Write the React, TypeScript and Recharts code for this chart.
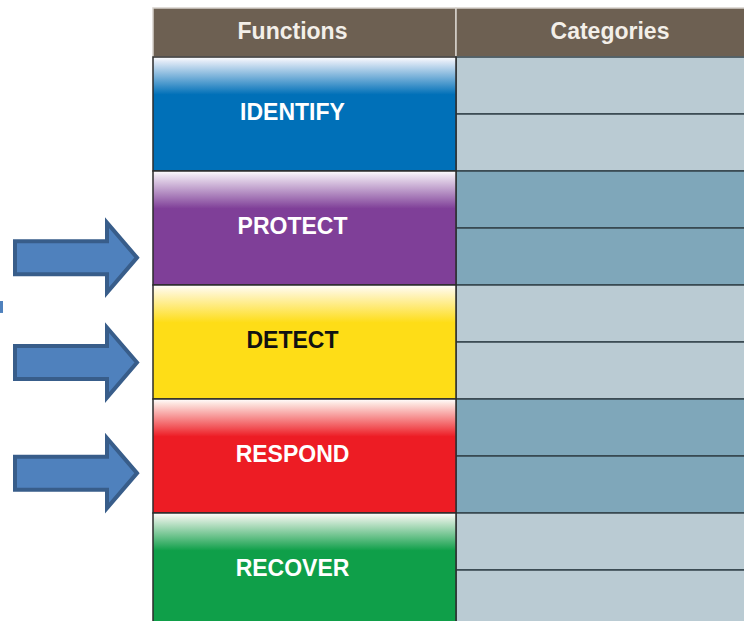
import React from 'react';
import { ComposedChart, XAxis, YAxis, ReferenceArea, Scatter } from 'recharts';

// table content
const headers = ['Functions', 'Categories'];
const functions = ['IDENTIFY', 'PROTECT', 'DETECT', 'RESPOND', 'RECOVER'];
const categoriesPerFunction = [2, 2, 2, 2, 2];

// arrows: which function they point at, and how far down that row (0..1)
const arrowTargets = ['PROTECT', 'DETECT', 'RESPOND'];
const arrowDepth = [0.76, 0.68, 0.65];

// colours per function
const fnColors: Record<string, { base: string; top: string; text: string }> = {
  IDENTIFY: { base: '#0070b8', top: '#dfe9f6', text: '#ffffff' },
  PROTECT: { base: '#7f3f98', top: '#ece2f0', text: '#ffffff' },
  DETECT: { base: '#fedd17', top: '#fff8dc', text: '#111111' },
  RESPOND: { base: '#ed1c24', top: '#fde4df', text: '#ffffff' },
  RECOVER: { base: '#0f9f49', top: '#e2efe2', text: '#ffffff' },
};

const HEADER_BG = '#6d6052';
const CAT_LIGHT = '#bacbd3';
const CAT_DARK = '#7fa7ba';
const FONT = '"Liberation Sans", Arial, Helvetica, sans-serif';

// layout (x in px, y in row units)
const FN_X1 = 153;
const FN_X2 = 456;
const CAT_X2 = 764; // table runs past the right edge of the picture
const HEADER_TOP = -0.43;
const ARROW_TIP_X = 140;

const arrowData = arrowTargets.map((fn, i) => ({
  x: ARROW_TIP_X,
  y: functions.indexOf(fn) + arrowDepth[i],
}));

const cellLabel = (text: string, color: string, dx = 0, dy = -2) => (props: any) => {
  const { x, y, width, height } = props.viewBox;
  return (
    <text
      x={x + width / 2 + dx}
      y={y + height / 2 + dy}
      textAnchor="middle"
      dominantBaseline="central"
      fill={color}
      fontFamily={FONT}
      fontWeight="bold"
      fontSize={23}
    >
      {text}
    </text>
  );
};

const Arrow = (props: any) => {
  const { cx, cy } = props;
  const pts = [
    [-3, 0], [-33, -35], [-33, -16.5], [-125, -16.5],
    [-125, 16.5], [-33, 16.5], [-33, 35],
  ].map(([dx, dy]) => `${cx + dx},${cy + dy}`).join(' ');
  return <polygon points={pts} fill="#4f81bd" stroke="#385d8a" strokeWidth={4} strokeLinejoin="miter" />;
};

export default function App() {
  return (
    <div style={{ position: 'absolute', left: 0, top: 0, width: 744, height: 621, background: '#fff' }}>
      <ComposedChart width={744} height={621} margin={{ top: 0, right: 0, bottom: 0, left: 0 }} data={arrowData}>
        <defs>
          {functions.map(fn => (
            <linearGradient key={fn} id={`grad-${fn}`} x1="0" y1="0" x2="0" y2="1">
              <stop offset="0" stopColor="#ffffff" />
              <stop offset="0.04" stopColor={fnColors[fn].top} />
              <stop offset="0.33" stopColor={fnColors[fn].base} />
              <stop offset="1" stopColor={fnColors[fn].base} />
            </linearGradient>
          ))}
        </defs>
        <XAxis type="number" dataKey="x" domain={[0, 744]} allowDataOverflow hide />
        <YAxis type="number" dataKey="y" domain={[-0.5, 4.947]} allowDataOverflow reversed hide />

        {/* header */}
        <ReferenceArea
          x1={FN_X1} x2={FN_X2} y1={HEADER_TOP} y2={0}
          fill={HEADER_BG} fillOpacity={1} stroke="#d6d1cb" strokeWidth={1.5}
          ifOverflow="hidden" label={cellLabel(headers[0], '#f3efe9', -12, -1)}
        />
        <ReferenceArea
          x1={FN_X2} x2={CAT_X2} y1={HEADER_TOP} y2={0}
          fill={HEADER_BG} fillOpacity={1} stroke="#d6d1cb" strokeWidth={1.5}
          ifOverflow="hidden" label={cellLabel(headers[1], '#f3efe9', 0, -1)}
        />

        {/* category sub-rows */}
        {functions.map((fn, i) =>
          Array.from({ length: categoriesPerFunction[i] }).map((_, j) => {
            const n = categoriesPerFunction[i];
            return (
              <ReferenceArea
                key={`${fn}-${j}`}
                x1={FN_X2} x2={CAT_X2}
                y1={i + j / n} y2={i + (j + 1) / n}
                fill={i % 2 === 0 ? CAT_LIGHT : CAT_DARK} fillOpacity={1}
                stroke="#34444c" strokeWidth={1.5}
                ifOverflow="hidden"
              />
            );
          })
        )}

        {/* function cells */}
        {functions.map((fn, i) => (
          <ReferenceArea
            key={fn}
            x1={FN_X1} x2={FN_X2} y1={i} y2={i + 1}
            fill={`url(#grad-${fn})`} fillOpacity={1}
            stroke="#2c2c2c" strokeWidth={1.5}
            ifOverflow="hidden"
            label={cellLabel(fn, fnColors[fn].text, -12, -2)}
          />
        ))}

        {/* stray mark at left edge */}
        <ReferenceArea x1={0} x2={3} y1={2.14} y2={2.245} fill="#4f81bd" fillOpacity={1} ifOverflow="hidden" />

        <Scatter data={arrowData} shape={<Arrow />} isAnimationActive={false} />
      </ComposedChart>
    </div>
  );
}
